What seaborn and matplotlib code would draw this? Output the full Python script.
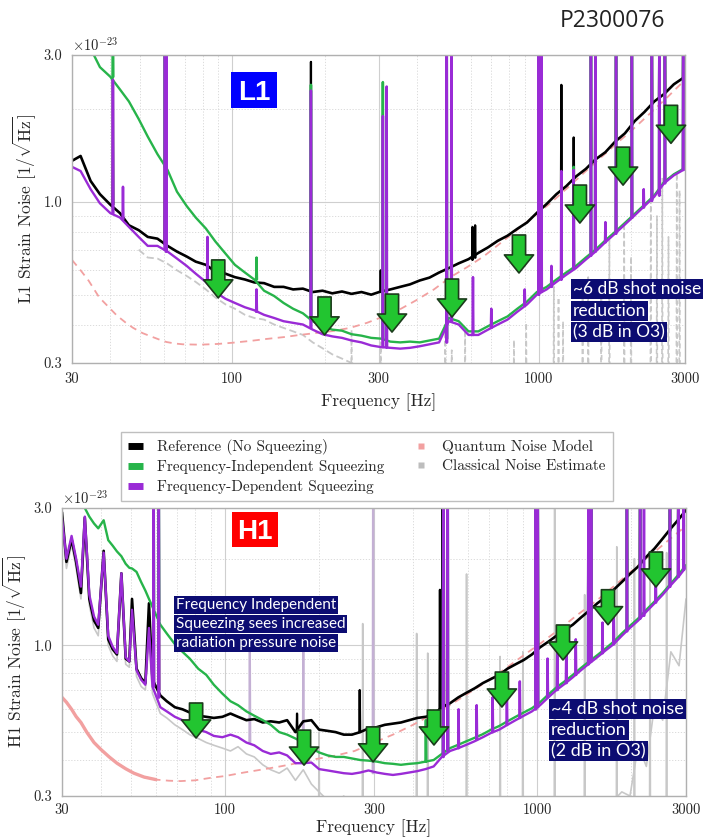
import matplotlib
matplotlib.use("Agg")
import matplotlib.pyplot as plt
import numpy as np
import pandas as pd
import seaborn as sns
from matplotlib.lines import Line2D
from matplotlib.patches import Rectangle
from matplotlib.ticker import FixedLocator, FixedFormatter, NullFormatter

sns.set_style("white")
plt.rcParams["font.family"] = ["cmr10", "DejaVu Sans"]
plt.rcParams["mathtext.fontset"] = "cm"
plt.rcParams["axes.formatter.use_mathtext"] = True
plt.rcParams["axes.unicode_minus"] = False

# ---------------- data (units of 1e-23 / sqrt(Hz)) ----------------
L1_freq = [30, 32, 34.5, 37, 40, 43, 46, 49.5, 53, 57,
           61.5, 66, 71, 76, 82, 88, 95, 102, 110, 118,
           127, 137, 147, 158, 170, 183, 197, 212, 228, 245,
           264, 284, 305, 328, 353, 380, 409, 440, 473, 509,
           548, 590, 635, 683, 735, 791, 851, 916, 986, 1061,
           1142, 1229, 1323, 1424, 1532, 1649, 1775, 1910, 2056, 2213,
           2382, 2563, 2759, 3000]
L1_ref = [1.36, 1.41, 1.17, 1.06, 0.98, 0.92, 0.84, 0.81, 0.77, 0.76,
          0.72, 0.69, 0.665, 0.64, 0.625, 0.595, 0.585, 0.57, 0.56, 0.548,
          0.545, 0.53, 0.53, 0.52, 0.523, 0.51, 0.515, 0.505, 0.512, 0.503,
          0.51, 0.50, 0.512, 0.52, 0.53, 0.54, 0.556, 0.568, 0.59, 0.61,
          0.632, 0.652, 0.683, 0.712, 0.748, 0.777, 0.818, 0.858, 0.922, 0.985,
          1.06, 1.125, 1.21, 1.28, 1.375, 1.45, 1.57, 1.67, 1.83, 1.96,
          2.12, 2.24, 2.41, 2.55]
L1_fis = [3.7, 3.45, 3.15, 2.74, 2.55, 2.32, 2.12, 1.86, 1.63, 1.43,
          1.27, 1.08, 0.97, 0.89, 0.82, 0.745, 0.68, 0.625, 0.59, 0.56,
          0.515, 0.495, 0.47, 0.45, 0.435, 0.41, 0.395, 0.385, 0.382, 0.372,
          0.368, 0.362, 0.36, 0.352, 0.35, 0.352, 0.35, 0.355, 0.36, 0.42,
          0.41, 0.38, 0.38, 0.395, 0.41, 0.425, 0.45, 0.475, 0.51, 0.53,
          0.56, 0.59, 0.62, 0.66, 0.70, 0.75, 0.80, 0.855, 0.915, 0.98,
          1.05, 1.16, 1.23, 1.29]
L1_fds = [1.30, 1.26, 1.10, 0.99, 0.92, 0.89, 0.83, 0.77, 0.72, 0.72,
          0.69, 0.655, 0.62, 0.585, 0.55, 0.51, 0.485, 0.47, 0.455, 0.445,
          0.43, 0.42, 0.41, 0.405, 0.40, 0.385, 0.372, 0.366, 0.362, 0.355,
          0.35, 0.342, 0.338, 0.336, 0.334, 0.336, 0.34, 0.345, 0.35, 0.41,
          0.40, 0.37, 0.37, 0.385, 0.40, 0.415, 0.44, 0.465, 0.50, 0.52,
          0.55, 0.58, 0.61, 0.65, 0.69, 0.74, 0.79, 0.845, 0.905, 0.97,
          1.04, 1.15, 1.22, 1.28]
L1_cls_freq = [49.5, 53, 57, 61.5, 66, 71, 76, 82, 88, 95,
               102, 110, 118, 127, 137, 147, 158, 170, 183, 197,
               212, 228, 245, 264, 284, 305, 328, 353, 380, 440,
               509, 590, 683, 791, 916, 1061, 1229, 1424, 1649, 1910,
               2213, 2563, 3000]
L1_cls = [0.70, 0.66, 0.655, 0.63, 0.60, 0.575, 0.55, 0.52, 0.49, 0.465,
          0.45, 0.43, 0.42, 0.415, 0.40, 0.39, 0.38, 0.37, 0.35, 0.335,
          0.32, 0.31, 0.30, 0.295, 0.29, 0.30, 0.28, 0.27, 0.26, 0.25,
          0.25, 0.25, 0.25, 0.25, 0.25, 0.25, 0.25, 0.25, 0.25, 0.25,
          0.25, 0.25, 0.25]
L1_qn_freq = [30, 32, 34, 36.8, 40, 42, 45, 47.5, 51, 54.3,
              58, 61, 65, 69, 78.6, 90, 100, 115, 129, 147,
              166, 190, 213, 242, 275, 312, 355, 399, 455, 515,
              585, 660, 750, 848, 960, 1090, 1240, 1400, 1590, 1797,
              2040, 2310, 2630, 3000]
L1_qn = [0.648, 0.60, 0.555, 0.49, 0.45, 0.428, 0.405, 0.39, 0.375, 0.366,
         0.357, 0.351, 0.347, 0.345, 0.344, 0.346, 0.349, 0.354, 0.359, 0.364,
         0.37, 0.376, 0.381, 0.39, 0.405, 0.425, 0.45, 0.48, 0.52, 0.57,
         0.615, 0.665, 0.735, 0.81, 0.895, 0.99, 1.11, 1.24, 1.39, 1.55,
         1.73, 1.94, 2.19, 2.49]

# narrow spectral lines: (frequency, level at foot, level at top)
L1_ref_lines = [(40.8, 0.98, 2.5), (60.3, 0.73, 4.0), (180.6, 0.52, 2.85), (305, 0.51, 0.60),
                (608, 0.65, 0.83), (620, 0.66, 0.84), (1000, 0.95, 4.0), (1020, 0.97, 4.0),
                (1185, 1.10, 2.4), (1300, 1.19, 1.62), (1480, 1.33, 4.0), (1530, 1.37, 4.0),
                (1787, 1.58, 4.0), (2013, 1.78, 4.0), (2339, 2.08, 4.0), (2474, 2.18, 4.0),
                (2580, 2.26, 4.0), (2960, 2.52, 4.0)]
L1_fis_lines = [(40.8, 2.55, 4.0), (60.3, 1.30, 4.0), (120, 0.56, 0.66), (180.6, 0.42, 2.4),
                (310, 0.36, 2.45), (501, 0.36, 4.0), (519, 0.42, 4.0), (1000, 0.51, 4.0),
                (1020, 0.52, 4.0), (1300, 0.62, 1.3), (1480, 0.69, 4.0), (1530, 0.70, 4.0),
                (1787, 0.80, 4.0), (2013, 0.89, 4.0), (2339, 1.02, 4.0), (2474, 1.07, 4.0),
                (2580, 1.16, 4.0), (2960, 1.28, 4.0)]
L1_fds_lines = [(40.8, 0.92, 2.49), (44, 0.88, 1.12), (60.3, 0.70, 4.0), (60.9, 0.69, 4.0),
                (83, 0.55, 0.77), (120, 0.44, 0.52), (180.6, 0.39, 2.3), (310, 0.338, 1.9),
                (319, 0.337, 2.37), (501, 0.35, 4.0), (519, 0.41, 4.0), (610, 0.37, 0.57),
                (700, 0.39, 0.45), (900, 0.46, 0.52), (1000, 0.50, 4.0), (1020, 0.51, 4.0),
                (1100, 0.53, 0.62), (1185, 0.56, 1.26), (1300, 0.61, 1.27), (1480, 0.67, 4.0),
                (1530, 0.69, 4.0), (1650, 0.74, 0.86), (1787, 0.79, 4.0), (2013, 0.89, 4.0),
                (2200, 0.96, 1.1), (2339, 1.01, 4.0), (2474, 1.05, 4.0), (2580, 1.15, 4.0),
                (2960, 1.27, 4.0)]
L1_cls_lines = [(245, 0.25, 0.385), (305, 0.25, 0.35), (495, 0.25, 0.405), (520, 0.25, 0.33),
                (575, 0.25, 0.385), (830, 0.25, 0.356), (910, 0.25, 0.405), (1120, 0.25, 0.53),
                (1160, 0.25, 0.49), (1200, 0.25, 0.41), (1390, 0.25, 0.49), (1450, 0.25, 0.57),
                (1600, 0.25, 0.56), (1700, 0.25, 0.77), (1900, 0.25, 0.855), (2000, 0.25, 0.665),
                (2320, 0.25, 1.04), (2430, 0.25, 0.90), (2530, 0.25, 1.19), (2650, 0.25, 0.77),
                (2820, 0.25, 1.24), (2880, 0.25, 1.09)]

H1_freq = [30, 31, 32.2, 33.3, 34.5, 35.5, 36.7, 38.0, 39.2, 40.8,
           42.2, 43.6, 45.0, 46.5, 48.0, 49.3, 50.3, 52.0, 53.8, 55.5,
           57.0, 58.5,
           62, 65, 69, 73, 77, 82, 87, 92, 98, 104,
           110, 117, 124, 132, 140, 149, 158, 168, 178, 189,
           200, 213, 226, 240, 255, 271, 288, 306, 325, 345,
           366, 389, 413, 439, 466, 495, 526, 559, 594, 631,
           670, 712, 756, 803, 853, 906, 962, 1022, 1086, 1153,
           1225, 1301, 1382, 1468, 1559, 1656, 1759, 1868, 1984, 2108,
           2239, 2378, 2526, 2683, 2850, 3000]
H1_ref = [2.9, 1.95, 2.34, 1.95, 1.52, 2.78, 1.45, 1.22, 1.15, 2.13,
          1.05, 0.97, 0.93, 1.78, 0.90, 0.88, 1.45, 0.83, 0.77, 0.74,
          1.40, 0.76,
          0.67, 0.64, 0.61, 0.60, 0.585, 0.57, 0.565, 0.56, 0.565, 0.58,
          0.565, 0.55, 0.555, 0.54, 0.545, 0.54, 0.55, 0.50, 0.545, 0.55,
          0.51, 0.505, 0.50, 0.49, 0.49, 0.50, 0.515, 0.52, 0.53, 0.535,
          0.54, 0.55, 0.56, 0.565, 0.575, 0.61, 0.63, 0.66, 0.685, 0.71,
          0.74, 0.765, 0.79, 0.83, 0.86, 0.89, 0.93, 0.985, 1.03, 1.08,
          1.13, 1.18, 1.25, 1.32, 1.40, 1.47, 1.56, 1.66, 1.77, 1.88,
          2.03, 2.17, 2.35, 2.55, 2.75, 2.95]
H1_fis = [4.0, 3.8, 3.6, 3.4, 3.15, 3.0, 2.8, 2.65, 2.55, 2.72,
          2.32, 2.22, 2.12, 2.04, 1.92, 1.86, 1.85, 1.80, 1.66, 1.55,
          1.45, 1.36,
          1.18, 1.10, 1.01, 0.95, 0.90, 0.83, 0.79, 0.73, 0.68, 0.64,
          0.62, 0.59, 0.57, 0.55, 0.53, 0.50, 0.49, 0.475, 0.46, 0.44,
          0.425, 0.415, 0.41, 0.41, 0.405, 0.40, 0.398, 0.395, 0.39, 0.388,
          0.385, 0.388, 0.39, 0.395, 0.40, 0.42, 0.44, 0.452, 0.465, 0.478,
          0.492, 0.51, 0.525, 0.545, 0.565, 0.585, 0.605, 0.635, 0.675, 0.715,
          0.75, 0.79, 0.835, 0.88, 0.925, 0.975, 1.03, 1.10, 1.17, 1.24,
          1.33, 1.42, 1.52, 1.64, 1.77, 1.90]
H1_fds = [2.75, 2.0, 2.40, 2.0, 1.60, 2.80, 1.50, 1.26, 1.18, 2.10,
          1.08, 0.99, 0.94, 1.78, 0.91, 0.88, 1.33, 0.82, 0.76, 0.73,
          1.15, 0.72,
          0.61, 0.59, 0.565, 0.55, 0.535, 0.51, 0.50, 0.485, 0.48, 0.49,
          0.48, 0.46, 0.45, 0.43, 0.42, 0.425, 0.415, 0.39, 0.39, 0.392,
          0.372, 0.368, 0.364, 0.36, 0.358, 0.362, 0.368, 0.362, 0.358, 0.355,
          0.358, 0.362, 0.366, 0.372, 0.38, 0.41, 0.43, 0.44, 0.452, 0.465,
          0.48, 0.497, 0.51, 0.53, 0.55, 0.57, 0.59, 0.62, 0.66, 0.70,
          0.735, 0.775, 0.82, 0.865, 0.91, 0.96, 1.01, 1.08, 1.15, 1.22,
          1.31, 1.40, 1.50, 1.62, 1.74, 1.87]
H1_cls = [2.6, 1.85, 2.25, 1.85, 1.45, 2.6, 1.38, 1.15, 1.08, 1.95,
          1.0, 0.92, 0.88, 1.65, 0.86, 0.84, 1.25, 0.78, 0.72, 0.70,
          1.05, 0.68,
          0.58, 0.56, 0.53, 0.51, 0.49, 0.475, 0.46, 0.45, 0.44, 0.43,
          0.445, 0.42, 0.41, 0.385, 0.37, 0.36, 0.375, 0.34, 0.37, 0.33,
          0.31, 0.29, 0.28, 0.30, 0.27, 0.26, 0.28, 0.25, 0.27, 0.25,
          0.26, 0.25, 0.27, 0.25, 0.26, 0.25, 0.27, 0.25, 0.26, 0.25,
          0.27, 0.25, 0.26, 0.25, 0.27, 0.25, 0.26, 0.25, 0.27, 0.25,
          0.26, 0.25, 0.27, 0.25, 0.26, 0.27, 0.29, 0.31, 0.30, 0.45,
          0.38, 0.62, 0.55, 0.95, 0.85, 1.45]
H1_qn_freq = [30, 31, 32.2, 33.3, 34.5, 36, 38, 40, 42.5, 45,
              48, 51, 55, 60, 66, 72, 80, 90, 100, 115,
              130, 150, 170, 195, 225, 260, 300, 345, 400, 460,
              525, 600, 690, 790, 900, 1030, 1180, 1350, 1550, 1780,
              2040, 2340, 2650, 3000]
H1_qn = [0.66, 0.635, 0.60, 0.566, 0.54, 0.50, 0.46, 0.435, 0.41, 0.39,
         0.373, 0.36, 0.349, 0.342, 0.339, 0.338, 0.34, 0.347, 0.352, 0.362,
         0.37, 0.38, 0.39, 0.403, 0.414, 0.43, 0.46, 0.49, 0.53, 0.575,
         0.62, 0.68, 0.75, 0.83, 0.92, 1.02, 1.14, 1.28, 1.43, 1.62,
         1.84, 2.08, 2.33, 2.6]

H1_ref_lines = [(59.0, 0.74, 4.0), (61.3, 0.70, 4.0), (170, 0.50, 0.58), (270, 0.50, 0.70),
                (488, 0.60, 1.56), (497, 0.61, 4.0), (515, 0.62, 4.0), (990, 0.95, 4.0),
                (1005, 0.97, 4.0), (1460, 1.31, 4.0), (1490, 1.33, 4.0), (1940, 1.73, 4.0),
                (2138, 1.90, 4.0), (2665, 2.5, 4.0), (2835, 2.7, 4.0)]
H1_fis_lines = [(59.0, 1.33, 4.0), (61.3, 1.22, 4.0), (440, 0.395, 0.55), (500, 0.42, 4.0),
                (517, 0.44, 4.0), (990, 0.62, 4.0), (1005, 0.63, 4.0), (1460, 0.875, 4.0),
                (1490, 0.89, 4.0), (1940, 1.14, 4.0), (2138, 1.25, 4.0), (2665, 1.62, 4.0),
                (2835, 1.75, 4.0)]
H1_fds_lines = [(59.0, 0.72, 4.0), (61.3, 0.66, 4.0), (500, 0.41, 4.0), (517, 0.43, 4.0),
                (560, 0.44, 0.60), (640, 0.47, 0.62), (720, 0.50, 0.66), (800, 0.53, 0.70),
                (880, 0.56, 0.75), (990, 0.60, 4.0), (1005, 0.61, 4.0), (1080, 0.66, 0.90),
                (1160, 0.70, 0.95), (1240, 0.74, 1.0), (1330, 0.79, 1.05), (1460, 0.86, 4.0),
                (1490, 0.88, 4.0), (1620, 0.94, 1.2), (1760, 1.01, 1.3), (1940, 1.12, 4.0),
                (2138, 1.24, 4.0), (2200, 1.27, 4.0), (2400, 1.41, 1.8), (2665, 1.60, 4.0),
                (2835, 1.73, 4.0), (2950, 1.83, 4.0)]
H1_cls_lines = [(200, 0.27, 0.50), (276, 0.27, 1.19), (411, 0.27, 1.10), (446, 0.27, 0.94),
                (594, 0.27, 1.77), (761, 0.27, 0.915), (900, 0.27, 0.95), (1138, 0.27, 3.2),
                (1420, 0.27, 1.5), (1800, 0.27, 2.2), (2050, 0.27, 2.0), (2300, 0.27, 1.7),
                (2600, 0.27, 2.1)]
H1_faint_lines = [(120, 0.46, 0.95), (178, 0.40, 0.96), (298, 0.36, 4.0)]

L1_arrow_f = [90, 200, 332, 521, 862, 1362, 1884, 2700]
L1_arrow_v = [0.488, 0.370, 0.378, 0.423, 0.588, 0.854, 1.134, 1.55]
H1_arrow_f = [80.7, 179, 298, 467, 771, 1210, 1687, 2403]
H1_arrow_v = [0.477, 0.384, 0.394, 0.451, 0.611, 0.890, 1.18, 1.595]

x_major = [30, 100, 300, 1000, 3000]
x_labels = ["30", "100", "300", "1000", "3000"]
x_minor = [40, 50, 60, 70, 80, 90, 200, 400, 500, 600, 700, 800, 900, 2000]
y_major = [0.3, 1.0, 3.0]
y_labels = ["0.3", "1.0", "3.0"]
y_minor = [0.4, 0.5, 0.6, 0.7, 0.8, 0.9, 2.0]

series_names = ["Reference (No Squeezing)", "Frequency-Independent Squeezing",
                "Frequency-Dependent Squeezing", "Quantum Noise Model", "Classical Noise Estimate"]

C_REF, C_FIS, C_FDS, C_QN, C_CLS = "#000000", "#27b44a", "#9a2bd6", "#f2a0a0", "#c8c8c8"
C_FAINT = "#c4b0d4"

# ---------------- figure ----------------
W, H = 704, 839
fig = plt.figure(figsize=(W / 100, H / 100), dpi=100)


def px_axes(l, t, r, b):
    return fig.add_axes([l / W, 1 - b / H, (r - l) / W, (b - t) / H])


axL = px_axes(72, 55, 685, 363)
axH = px_axes(62, 508, 686, 796)


def draw_series(ax, f, v, color, lw, z, ls="-"):
    df = pd.DataFrame({"freq": f, "strain": v})
    sns.lineplot(data=df, x="freq", y="strain", ax=ax, color=color, lw=lw,
                 zorder=z, estimator=None, sort=False, linestyle=ls)


def draw_lines(ax, spikes, color, lw, z, ls="-", w=0.003):
    rows = []
    for i, (f, b, t) in enumerate(spikes):
        rows += [(i, f / (1 + w), b), (i, f, t), (i, f * (1 + w), b)]
    df = pd.DataFrame(rows, columns=["uid", "freq", "strain"])
    sns.lineplot(data=df, x="freq", y="strain", units="uid", estimator=None, sort=False,
                 ax=ax, color=color, lw=lw, zorder=z, linestyle=ls)


def style_axes(ax, det, tickpad, labelpad):
    ax.set_xscale("log")
    ax.set_yscale("log")
    ax.set_xlim(30, 3000)
    ax.set_ylim(0.3, 3.0)
    ax.xaxis.set_major_locator(FixedLocator(x_major))
    ax.xaxis.set_major_formatter(FixedFormatter(x_labels))
    ax.xaxis.set_minor_locator(FixedLocator(x_minor))
    ax.xaxis.set_minor_formatter(NullFormatter())
    ax.yaxis.set_major_locator(FixedLocator(y_major))
    ax.yaxis.set_major_formatter(FixedFormatter(y_labels))
    ax.yaxis.set_minor_locator(FixedLocator(y_minor))
    ax.yaxis.set_minor_formatter(NullFormatter())
    ax.set_axisbelow(True)
    ax.grid(which="major", color="#cfcfcf", lw=0.8)
    ax.grid(which="minor", color="#d6d6d6", lw=0.6, ls=(0, (1.5, 2)))
    for s in ax.spines.values():
        s.set_color("#b0b0b0")
        s.set_linewidth(1.0)
    ax.tick_params(which="both", direction="out", color="#999999", labelsize=10.5,
                   length=3, pad=4)
    ax.tick_params(axis="x", which="major", pad=tickpad)
    ax.tick_params(which="minor", length=2)
    ax.set_xlabel("Frequency [Hz]", fontsize=12.5, labelpad=labelpad)
    ax.set_ylabel(det + r" Strain Noise [1/$\sqrt{\mathrm{Hz}}$]", fontsize=12.5)
    ax.text(0.0, 1.003, r"$\times10^{-23}$", transform=ax.transAxes, ha="left",
            va="bottom", fontsize=10.5)


def draw_arrows(ax, fs, vs, length_px):
    for f, v in zip(fs, vs):
        ax.annotate("", xy=(f, v), xytext=(0, length_px * 0.72), textcoords="offset points",
                    arrowprops=dict(arrowstyle="simple,head_length=13,head_width=21,tail_width=9.5",
                                    mutation_scale=1, fc="#22c530", ec="#1b3b1b", lw=1.2,
                                    shrinkA=0, shrinkB=0),
                    zorder=6, annotation_clip=False)


for ax in (axL, axH):
    ax.set_xscale("log")
    ax.set_yscale("log")

# L1 panel
draw_series(axL, L1_cls_freq, L1_cls, C_CLS, 1.3, 1.0, ls=(0, (4, 2)))
draw_lines(axL, L1_cls_lines, C_CLS, 1.2, 1.0, ls=(0, (3, 2)))
draw_series(axL, L1_qn_freq, L1_qn, C_QN, 1.3, 1.5, ls=(0, (4, 3)))
draw_series(axL, L1_freq, L1_ref, C_REF, 1.9, 2.0)
draw_lines(axL, L1_ref_lines, C_REF, 1.6, 2.0)
draw_series(axL, L1_freq, L1_fis, C_FIS, 1.7, 2.2)
draw_lines(axL, L1_fis_lines, C_FIS, 1.8, 2.2)
draw_series(axL, L1_freq, L1_fds, C_FDS, 1.7, 2.4)
draw_lines(axL, L1_fds_lines, C_FDS, 1.8, 2.4)
style_axes(axL, "L1", 4, 5)
draw_arrows(axL, L1_arrow_f, L1_arrow_v, 38)

# H1 panel
draw_series(axH, H1_freq, H1_cls, C_CLS, 1.2, 1.0)
draw_lines(axH, H1_cls_lines, C_CLS, 1.2, 1.0)
draw_lines(axH, H1_faint_lines, C_FAINT, 1.6, 1.2)
draw_series(axH, H1_qn_freq[:14], H1_qn[:14], C_QN, 2.4, 1.5)
draw_series(axH, H1_qn_freq, H1_qn, C_QN, 1.3, 1.5, ls=(0, (4, 3)))
draw_series(axH, H1_freq, H1_ref, C_REF, 1.9, 2.0)
draw_lines(axH, H1_ref_lines, C_REF, 1.6, 2.0)
draw_series(axH, H1_freq, H1_fis, C_FIS, 1.7, 2.2)
draw_lines(axH, H1_fis_lines, C_FIS, 1.8, 2.2)
draw_series(axH, H1_freq, H1_fds, C_FDS, 1.7, 2.4)
draw_lines(axH, H1_fds_lines, C_FDS, 1.8, 2.4)
style_axes(axH, "H1", 2.5, 1.5)
draw_arrows(axH, H1_arrow_f, H1_arrow_v, 35)

axL.yaxis.set_label_coords(-0.0555, 0.5)
axH.yaxis.set_label_coords(-0.0545, 0.5)

# ---------------- labels, boxes ----------------
def tag(x, y, w, h, text, color):
    fig.add_artist(Rectangle((x / W, 1 - (y + h) / H), w / W, h / H,
                             transform=fig.transFigure, fc=color, ec="none", zorder=7))
    fig.text((x + w / 2) / W, 1 - (y + h - 8) / H, text, ha="center", va="baseline",
             color="white", fontsize=20, fontweight="bold", family="Liberation Sans", zorder=8)


tag(231, 72, 46, 36, "L1", "#0000ff")
tag(232, 512, 46, 35, "H1", "#ff0000")


def note(lines, x, ys, fs):
    for line, y in zip(lines, ys):
        fig.text(x / W, 1 - y / H, line, ha="left", va="center", color="white", fontsize=fs,
                 family="Lato",
                 bbox=dict(boxstyle="square,pad=0.12", fc="#0c0c72", ec="none"), zorder=9)


note(["~6 dB shot noise", "reduction", "(3 dB in O3)"], 573, [289, 311, 332], 12.5)
note(["Frequency Independent", "Squeezing sees increased", "radiation pressure noise"],
     176, [605, 624, 643], 11)
note(["~4 dB shot noise", "reduction", "(2 dB in O3)"], 551, [709, 730, 751], 13)

fig.text(612 / W, 1 - 21 / H, "P2300076", ha="center", va="center", fontsize=16.5,
         family="Open Sans", color="#222222")

# ---------------- legend ----------------
handles = [Line2D([0], [0], color=C_REF, lw=5, solid_capstyle="butt"),
           Line2D([0], [0], color=C_FIS, lw=5, solid_capstyle="butt"),
           Line2D([0], [0], color=C_FDS, lw=5, solid_capstyle="butt"),
           Line2D([], [], ls="none", marker="s", ms=4.5, mec="none", color=C_QN),
           Line2D([], [], ls="none", marker="s", ms=4.5, mec="none", color="#bdbdbd")]
leg = fig.legend(handles, series_names, loc="center", bbox_to_anchor=(0.521, 0.444), ncol=2,
                 frameon=True, fancybox=False, edgecolor="#b0b0b0", fontsize=11,
                 handlelength=1.0, handletextpad=0.9, columnspacing=1.9, labelspacing=0.35,
                 borderpad=0.45)
leg.get_frame().set_linewidth(1.0)

fig.savefig("out.png", dpi=100)
